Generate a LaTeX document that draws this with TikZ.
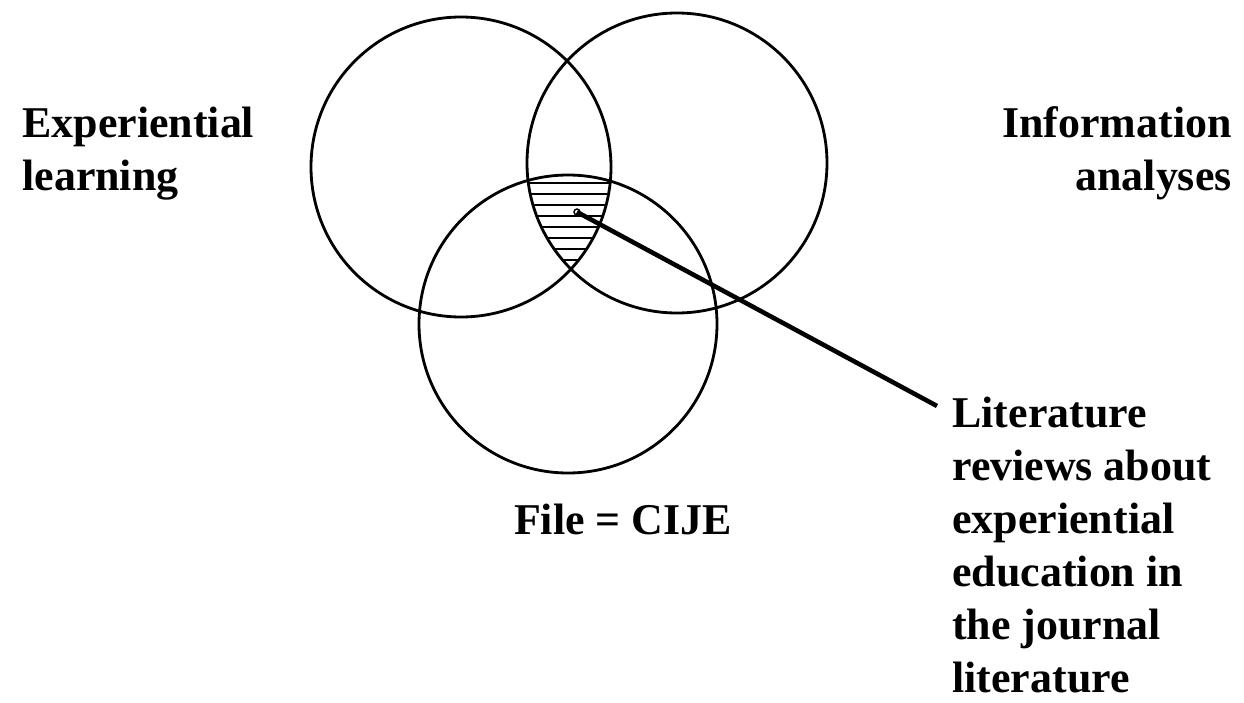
\documentclass[tikz,border=0pt]{standalone}
\usepackage{fontspec}
\setmainfont{Liberation Serif}
\usetikzlibrary{positioning}

\begin{document}
\begin{tikzpicture}[x=0.02cm,y=-0.02cm,
    ring/.style={line width=1.6pt},
    hatch/.style={line width=1.2pt},
    pointer/.style={line width=2.6pt},
    lbl/.style={inner sep=0pt, font=\bfseries\fontsize{25}{30.1}\selectfont}]
  \useasboundingbox (0,0) rectangle (1244,703);
  \coordinate (L) at (461,167);
  \coordinate (R) at (677,163);
  \coordinate (B) at (568,324);
  % hatched triple overlap
  \begin{scope}
    \clip (L) circle (150);
    \clip (R) circle (150);
    \clip (B) circle (149);
    \foreach \y in {183,194,...,260}
      \draw[hatch] (500,\y) -- (640,\y);
  \end{scope}
  \draw[ring] (L) circle (150);
  \draw[ring] (R) circle (150);
  \draw[ring] (B) circle (149);
  % multi-line labels sit on the baseline of their last line
  \node[lbl, align=left, anchor=base west] (exp) at (22,190) {Experiential\\learning};
  \node[lbl, align=right, anchor=base east] (info) at (1232,190) {Information\\analyses};
  \node[lbl, anchor=base] (file) at (623,534) {File = CIJE};
  \node[lbl, align=left, anchor=base west] (lit) at (952,692)
    {Literature\\reviews about\\experiential\\education in\\the journal\\literature};
  \coordinate (tip) at (577,212);
  \coordinate (litend) at (937,406);
  \draw[line width=0.8pt] (tip) circle (3);
  \draw[pointer] (tip) -- (litend);
\end{tikzpicture}
\end{document}
